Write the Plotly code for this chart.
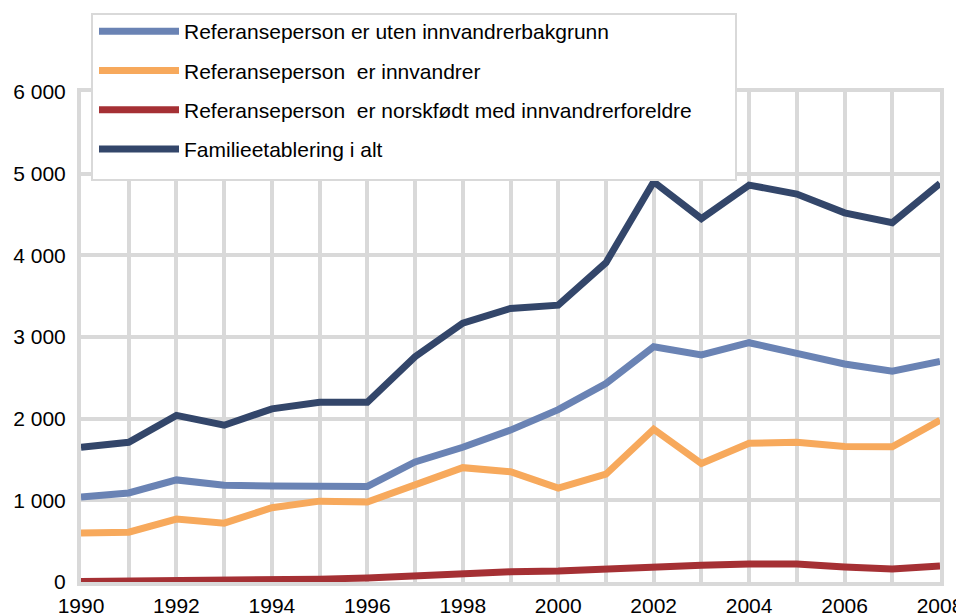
import plotly.graph_objects as go

years = list(range(1990, 2009))
uten = [1040, 1090, 1250, 1185, 1175, 1165, 1170, 1470, 1650, 1860, 2110, 2430, 2880, 2780, 2930, 2800, 2670, 2580, 2700]
innvandrer = [600, 610, 770, 720, 910, 990, 980, 1200, 1400, 1350, 1150, 1320, 1870, 1450, 1700, 1710, 1660, 1655, 1980]
norskfodt = [5, 8, 15, 18, 25, 35, 50, 80, 110, 125, 135, 165, 180, 205, 220, 220, 185, 160, 195]
total = [1650, 1710, 2040, 1920, 2120, 2200, 2200, 2760, 3170, 3350, 3390, 3910, 4900, 4450, 4860, 4750, 4520, 4400, 4880]

ytick_vals = [0, 1000, 2000, 3000, 4000, 5000, 6000]
ytick_text = ["0", "1 000", "2 000", "3 000", "4 000", "5 000", "6 000"]

series = [
    ("Referanseperson er uten innvandrerbakgrunn", uten, "#6A83B4"),
    ("Referanseperson  er innvandrer", innvandrer, "#F7A95C"),
    ("Referanseperson  er norskfødt med innvandrerforeldre", norskfodt, "#A53034"),
    ("Familieetablering i alt", total, "#33466A"),
]

fig = go.Figure()
for i, (name, vals, col) in enumerate(series):
    fig.add_trace(go.Scatter(
        x=years, y=vals, mode="lines", name=name,
        line=dict(color=col, width=7), legendgroup=f"g{i}",
    ))

grid = "#D9D9D9"
# page body has an 8px margin, so the figure is offset by 8px
L, R, T, B = 73, 24, 84, 34
W, H = 956, 608
pw, ph = W - L - R, H - T - B


def px(xf):
    return (xf - L) / pw


def py(yf):
    return (H - B - yf) / ph


# legend box drawn as a shape (figure px coordinates)
fig.add_shape(
    type="rect", xref="paper", yref="paper",
    x0=px(84), x1=px(728), y0=py(172), y1=py(6),
    fillcolor="white", line=dict(color=grid, width=2), layer="above",
)

fig.update_layout(
    width=W, height=H,
    margin=dict(l=L, r=R, t=T, b=B, autoexpand=False),
    paper_bgcolor="white", plot_bgcolor="white",
    font=dict(family="Liberation Sans, Arial, sans-serif", size=21, color="black"),
    showlegend=True,
    legend=dict(
        x=px(86), y=py(3), xanchor="left", yanchor="top",
        bgcolor="rgba(0,0,0,0)", borderwidth=0,
        font=dict(size=21), traceorder="grouped", tracegroupgap=9,
        itemwidth=80,
    ),
    xaxis=dict(
        range=[1990, 2008], tickmode="linear", tick0=1990, dtick=2,
        showgrid=True, gridcolor=grid, gridwidth=4,
        minor=dict(dtick=1, showgrid=True, gridcolor=grid, gridwidth=4),
        showline=True, linecolor=grid, linewidth=4, mirror=True,
        zeroline=False, ticks="", ticklabelstandoff=2, automargin=False,
    ),
    yaxis=dict(
        range=[0, 6000], tickmode="array",
        tickvals=ytick_vals, ticktext=ytick_text,
        showgrid=True, gridcolor=grid, gridwidth=4,
        showline=True, linecolor=grid, linewidth=4, mirror=True,
        zeroline=False, ticks="", ticklabelstandoff=7, automargin=False,
    ),
)

fig.write_html("out.html")
